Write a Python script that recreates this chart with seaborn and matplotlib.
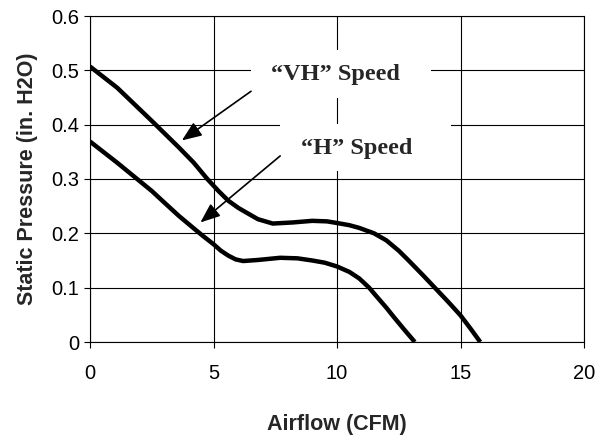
import matplotlib
matplotlib.use("Agg")
import matplotlib.pyplot as plt
import seaborn as sns
import pandas as pd
from matplotlib.patches import Rectangle

# Data
vh_airflow = [0, 1.1, 2.5, 3.6, 4.2, 4.75, 5.2, 5.6, 6.0, 6.3, 6.8, 7.4, 8.2, 9.0, 9.6, 10.0,
              10.5, 10.9, 11.5, 12.0, 12.5, 12.9, 13.5, 14.0, 14.5, 15.0, 15.4, 15.8]
vh_pressure = [0.507, 0.468, 0.407, 0.358, 0.330, 0.300, 0.278, 0.260, 0.247, 0.239, 0.226, 0.218,
               0.220, 0.223, 0.222, 0.219, 0.215, 0.210, 0.200, 0.187, 0.168, 0.150, 0.122,
               0.098, 0.074, 0.049, 0.025, 0.0]
h_airflow = [0, 1.1, 2.5, 3.0, 3.6, 4.1, 4.55, 5.0, 5.3, 5.6, 5.9, 6.2, 6.8, 7.7, 8.4, 9.0, 9.5,
             10.0, 10.5, 10.9, 11.3, 11.6, 12.0, 12.3, 12.7, 13.15]
h_pressure = [0.369, 0.330, 0.278, 0.257, 0.232, 0.213, 0.196, 0.180, 0.168, 0.159, 0.152, 0.149,
              0.151, 0.155, 0.154, 0.150, 0.146, 0.139, 0.129, 0.117, 0.100, 0.084, 0.063,
              0.046, 0.024, 0.0]
series_labels = ["\u201cVH\u201d Speed", "\u201cH\u201d Speed"]
x_ticks = [0, 5, 10, 15, 20]
y_ticks = [0, 0.1, 0.2, 0.3, 0.4, 0.5, 0.6]
y_tick_labels = ["0", "0.1", "0.2", "0.3", "0.4", "0.5", "0.6"]

df = pd.concat([
    pd.DataFrame({"Airflow": vh_airflow, "Pressure": vh_pressure, "Series": series_labels[0]}),
    pd.DataFrame({"Airflow": h_airflow, "Pressure": h_pressure, "Series": series_labels[1]}),
])

sns.set_theme(style="white")
plt.rcParams["font.family"] = ["Liberation Sans", "DejaVu Sans"]

fig = plt.figure(figsize=(5.95, 4.37), dpi=100)
ax = fig.add_axes([90 / 595, 1 - 342 / 437, (584 - 90) / 595, (342 - 16) / 437])

sns.lineplot(data=df, x="Airflow", y="Pressure", hue="Series",
             palette=["black", "black"], linewidth=3.2, legend=False,
             sort=False, estimator=None, ax=ax, zorder=3)
for ln in ax.get_lines():
    ln.set_solid_joinstyle("round")
    ln.set_solid_capstyle("butt")

ax.set_xlim(0, 20)
ax.set_ylim(0, 0.6)
ax.set_xticks(x_ticks)
ax.set_xticklabels([str(t) for t in x_ticks])
ax.set_yticks(y_ticks)
ax.set_yticklabels(y_tick_labels)
ax.grid(True, color="black", linewidth=0.8, zorder=0)
ax.set_axisbelow(True)
for s in ax.spines.values():
    s.set_visible(True)
    s.set_color("black")
    s.set_linewidth(0.8)

ax.tick_params(axis="both", which="major", direction="out", length=4,
               width=0.8, color="black", labelsize=14.5, labelcolor="black",
               left=True, bottom=True)
ax.tick_params(axis="x", pad=12)
ax.tick_params(axis="y", pad=3.5)

ax.set_xlabel("Airflow (CFM)", fontsize=15.5, fontweight="bold", labelpad=22)
ax.set_ylabel("Static Pressure (in. H2O)", fontsize=15.5, fontweight="bold", labelpad=10)

# White boxes behind the annotation text
ax.add_patch(Rectangle((6.52, 0.45), 7.3, 0.088, facecolor="white", edgecolor="none", zorder=2))
ax.add_patch(Rectangle((7.70, 0.314), 6.9, 0.088, facecolor="white", edgecolor="none", zorder=2))

serif = ["Liberation Serif", "DejaVu Serif"]
ax.text(9.93, 0.493, series_labels[0], ha="center", va="center",
        fontsize=17.5, fontweight="bold", family=serif, zorder=4)
ax.text(10.78, 0.357, series_labels[1], ha="center", va="center",
        fontsize=17.5, fontweight="bold", family=serif, zorder=4)

arrow = dict(arrowstyle="-|>,head_length=1.0,head_width=0.4", color="black", lw=1.2,
             shrinkA=0, shrinkB=0)
ax.annotate("", xy=(3.72, 0.371), xytext=(6.52, 0.4615), arrowprops=arrow, zorder=4)
ax.annotate("", xy=(4.47, 0.220), xytext=(7.70, 0.3425), arrowprops=arrow, zorder=4)

fig.savefig("out.png", dpi=100, facecolor="white")
